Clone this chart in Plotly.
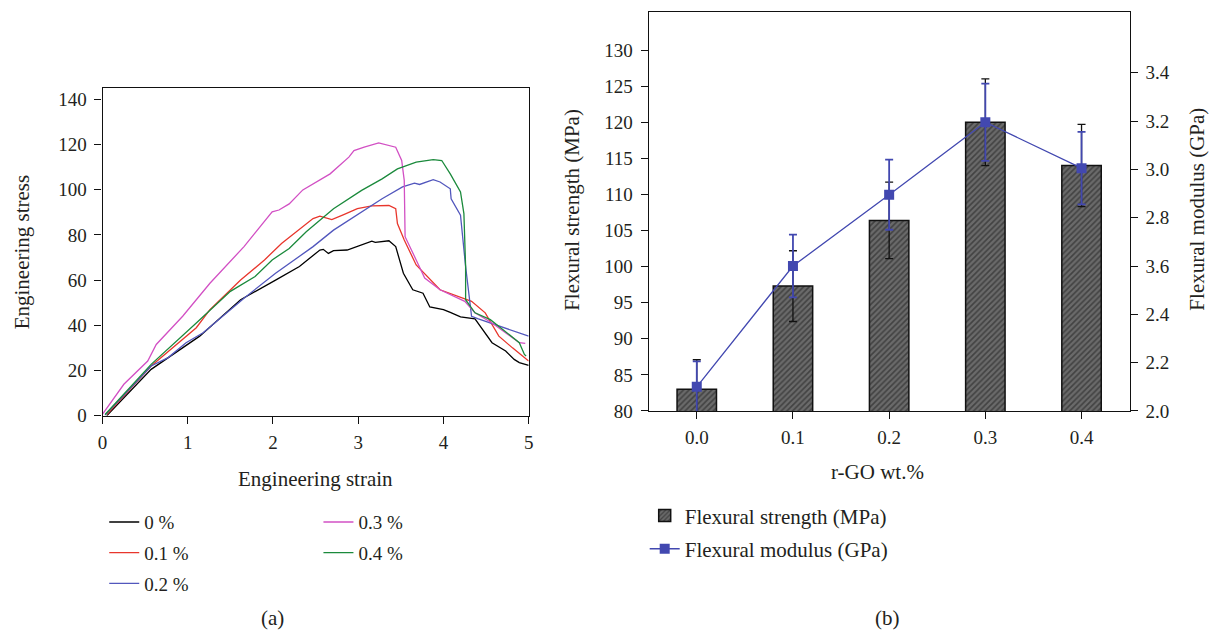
import plotly.graph_objects as go

# The page body adds an 8px margin, so every reference pixel position is shifted by 8px.
# A small vertical factor compensates the slight vertical squeeze seen in the photographed page.
OFF = 8
KY = 1.015
W, H = 1218 - 2 * OFF, 628

# ---------- (a) stress-strain curves ----------
x_0 = [0.05, 0.57, 1.14, 1.62, 2.03, 2.31, 2.55, 2.59, 2.65, 2.71, 2.87, 3.08, 3.16, 3.20, 3.36, 3.44, 3.53, 3.64, 3.76, 3.84, 4.00, 4.08, 4.20, 4.37, 4.43, 4.57, 4.73, 4.83, 4.89, 5.00]
y_0 = [0.0, 20.5, 35.2, 51.3, 60.0, 66.0, 73.3, 73.6, 71.8, 73.0, 73.3, 76.2, 77.2, 76.7, 77.4, 74.8, 63.0, 55.7, 54.2, 48.1, 46.9, 45.7, 43.7, 42.8, 39.6, 32.3, 28.6, 24.9, 23.5, 22.3]

x_01 = [0.05, 0.57, 1.10, 1.26, 1.62, 1.90, 2.10, 2.35, 2.47, 2.55, 2.69, 2.83, 2.99, 3.16, 3.36, 3.44, 3.46, 3.54, 3.68, 3.96, 4.33, 4.49, 4.65, 4.81, 5.00]
y_01 = [0.5, 22.0, 38.9, 46.9, 60.0, 68.9, 76.2, 83.6, 87.2, 88.3, 86.8, 89.0, 91.6, 92.8, 93.0, 91.6, 85.0, 77.7, 66.7, 55.7, 50.6, 45.5, 35.2, 30.0, 24.2]

x_02 = [0.03, 0.57, 0.77, 0.98, 1.18, 1.66, 2.03, 2.47, 2.71, 3.04, 3.28, 3.52, 3.66, 3.72, 3.88, 3.96, 4.08, 4.09, 4.20, 4.26, 4.33, 4.41, 5.00]
y_02 = [0.3, 22.0, 25.7, 32.3, 36.7, 52.0, 63.0, 74.8, 82.1, 90.2, 96.0, 101.2, 102.9, 102.3, 104.4, 103.4, 100.4, 96.0, 88.7, 66.0, 44.0, 42.8, 35.2]

x_03 = [0.0, 0.25, 0.53, 0.63, 0.94, 1.26, 1.66, 1.99, 2.07, 2.19, 2.35, 2.67, 2.89, 2.95, 3.07, 3.24, 3.44, 3.51, 3.54, 3.55, 3.68, 3.78, 3.96, 4.25, 4.37, 4.57, 4.89, 4.96]
y_03 = [0.7, 13.9, 24.2, 31.5, 44.0, 58.6, 74.8, 90.2, 91.0, 93.7, 99.9, 107.0, 114.4, 117.3, 118.8, 120.7, 118.8, 112.9, 104.1, 79.2, 68.9, 60.9, 55.7, 50.6, 45.5, 41.0, 32.3, 32.0]

x_04 = [0.03, 0.57, 1.10, 1.50, 1.79, 1.99, 2.19, 2.39, 2.71, 3.04, 3.28, 3.46, 3.68, 3.88, 3.98, 4.08, 4.20, 4.24, 4.26, 4.26, 4.37, 4.55, 4.89, 4.95, 4.97]
y_04 = [0.5, 22.7, 41.0, 55.0, 61.6, 68.9, 74.0, 81.4, 91.6, 99.7, 104.8, 109.2, 112.2, 113.3, 112.9, 107.0, 99.0, 89.4, 66.0, 51.3, 45.5, 42.5, 32.3, 27.1, 26.4]

curve_names = ["0 %", "0.1 %", "0.2 %", "0.3 %", "0.4 %"]
curve_colors = ["#000000", "#e8362c", "#5257bd", "#d250c4", "#1b8a3c"]

strain_ticks = [0, 1, 2, 3, 4, 5]
stress_ticks = [0, 20, 40, 60, 80, 100, 120, 140]

# ---------- (b) flexural properties ----------
rgo_labels = ["0.0", "0.1", "0.2", "0.3", "0.4"]
strength = [83.0, 97.3, 106.4, 120.0, 114.0]
strength_err = [4.1, 4.9, 5.3, 6.0, 5.7]
modulus = [2.10, 2.60, 2.895, 3.195, 3.005]
modulus_err = [0.105, 0.13, 0.145, 0.16, 0.15]
strength_ticks = [80, 85, 90, 95, 100, 105, 110, 115, 120, 125, 130]
modulus_tickvals = [2.0, 2.2, 2.4, 2.6, 2.8, 3.0, 3.2, 3.4]
modulus_ticktext = ["2.0", "2.2", "2.4", "3.6", "2.8", "3.0", "3.2", "3.4"]

FONT = "Liberation Serif, DejaVu Serif, serif"
TXT = "#231f20"
TICK_SIZE = 19
TITLE_SIZE = 21

def px_x(p):
    return (p - OFF) / W

def px_y(p):
    return 1 - (p * KY - OFF) / H

def px_y_raw(p):
    return 1 - (p - OFF) / H

fig = go.Figure()

legends = ["legend", "legend", "legend", "legend2", "legend2"]
for i, (xs, ys) in enumerate([(x_0, y_0), (x_01, y_01), (x_02, y_02), (x_03, y_03), (x_04, y_04)]):
    fig.add_trace(go.Scatter(
        x=xs, y=ys, mode="lines", name=curve_names[i],
        line=dict(color=curve_colors[i], width=1.3),
        xaxis="x", yaxis="y", legend=legends[i], legendgroup=curve_names[i],
    ))

cat_x = list(range(len(rgo_labels)))
fig.add_trace(go.Bar(
    x=cat_x, y=strength, name="Flexural strength (MPa)",
    width=0.41,
    marker=dict(color="#5e5e5e", line=dict(color="#111111", width=1.5),
                pattern=dict(shape="/", fgcolor="#1a1a1a", bgcolor="#6a6a6a", size=4, solidity=0.4)),
    error_y=dict(type="data", array=strength_err, visible=True, color="#111111", thickness=1.3, width=4),
    xaxis="x2", yaxis="y2", legend="legend3", legendgroup="fs",
))
fig.add_trace(go.Scatter(
    x=cat_x, y=modulus, name="Flexural modulus (GPa)", mode="lines+markers",
    line=dict(color="#4248b0", width=1.3),
    marker=dict(symbol="square", size=10, color="#4248b0"),
    error_y=dict(type="data", array=modulus_err, visible=True, color="#4248b0", thickness=1.8, width=4),
    xaxis="x2", yaxis="y3", legend="legend3", legendgroup="fm",
))

axis_common = dict(
    showline=True, linecolor="#111111", linewidth=1.2, mirror=True,
    ticks="outside", ticklen=7, tickcolor="#111111", tickwidth=1.2,
    showgrid=False, zeroline=False,
    tickfont=dict(family=FONT, size=TICK_SIZE, color=TXT),
)

legend_common = dict(xanchor="left", yanchor="top", bgcolor="rgba(0,0,0,0)", itemwidth=30)

fig.update_layout(
    width=W, height=H,
    margin=dict(l=0, r=0, t=0, b=0),
    paper_bgcolor="white", plot_bgcolor="white",
    font=dict(family=FONT, size=TITLE_SIZE, color=TXT),
    xaxis=dict(domain=[px_x(98.3), px_x(528)], range=[0, 5], tickvals=strain_ticks, anchor="y",
               ticklabelstandoff=2, **axis_common),
    yaxis=dict(domain=[px_y(416.7), px_y(88.3)], range=[0, 144.9], tickvals=stress_ticks, anchor="x",
               ticklabelstandoff=4, **axis_common),
    xaxis2=dict(domain=[px_x(649), px_x(1134)], range=[-0.5, 4.5], tickvals=cat_x, ticktext=rgo_labels, anchor="y2",
                ticklabelstandoff=2, **axis_common),
    yaxis2=dict(domain=[px_y(412), px_y(11.7)], range=[80, 135.3], tickvals=strength_ticks, anchor="x2",
                ticklabelstandoff=4, **axis_common),
    yaxis3=dict(range=[2.0, 3.652], tickvals=modulus_tickvals, ticktext=modulus_ticktext,
                overlaying="y2", side="right", anchor="x2",
                showline=False, ticks="outside", ticklen=7, tickcolor="#111111", tickwidth=1.2,
                ticklabelstandoff=4,
                showgrid=False, zeroline=False, tickfont=dict(family=FONT, size=TICK_SIZE, color=TXT)),
    showlegend=True,
    legend=dict(x=px_x(100), y=px_y_raw(512), tracegroupgap=3,
                font=dict(family=FONT, size=19, color=TXT), **legend_common),
    legend2=dict(x=px_x(316), y=px_y_raw(512), tracegroupgap=3,
                 font=dict(family=FONT, size=19, color=TXT), **legend_common),
    legend3=dict(x=px_x(645), y=px_y_raw(504), tracegroupgap=3,
                 font=dict(family=FONT, size=21, color=TXT), **legend_common),
)

ann = [
    ("Engineering stress", 18, 252, -90),
    ("Engineering strain", 313, 480, 0),
    ("Flexural strength (MPa)", 571, 210, -90),
    ("Flexural modulus (GPa)", 1201, 210, -90),
    ("r-GO wt.%", 880, 473, 0),
    ("(a)", 270, 620, 0),
    ("(b)", 890, 620, 0),
]
for text, ax_, ay_, ang in ann:
    fig.add_annotation(text=text, x=px_x(ax_), y=px_y(ay_), xref="paper", yref="paper",
                       showarrow=False, textangle=ang, xanchor="center", yanchor="middle",
                       font=dict(family=FONT, size=TITLE_SIZE, color=TXT))

fig.write_html("out.html")
